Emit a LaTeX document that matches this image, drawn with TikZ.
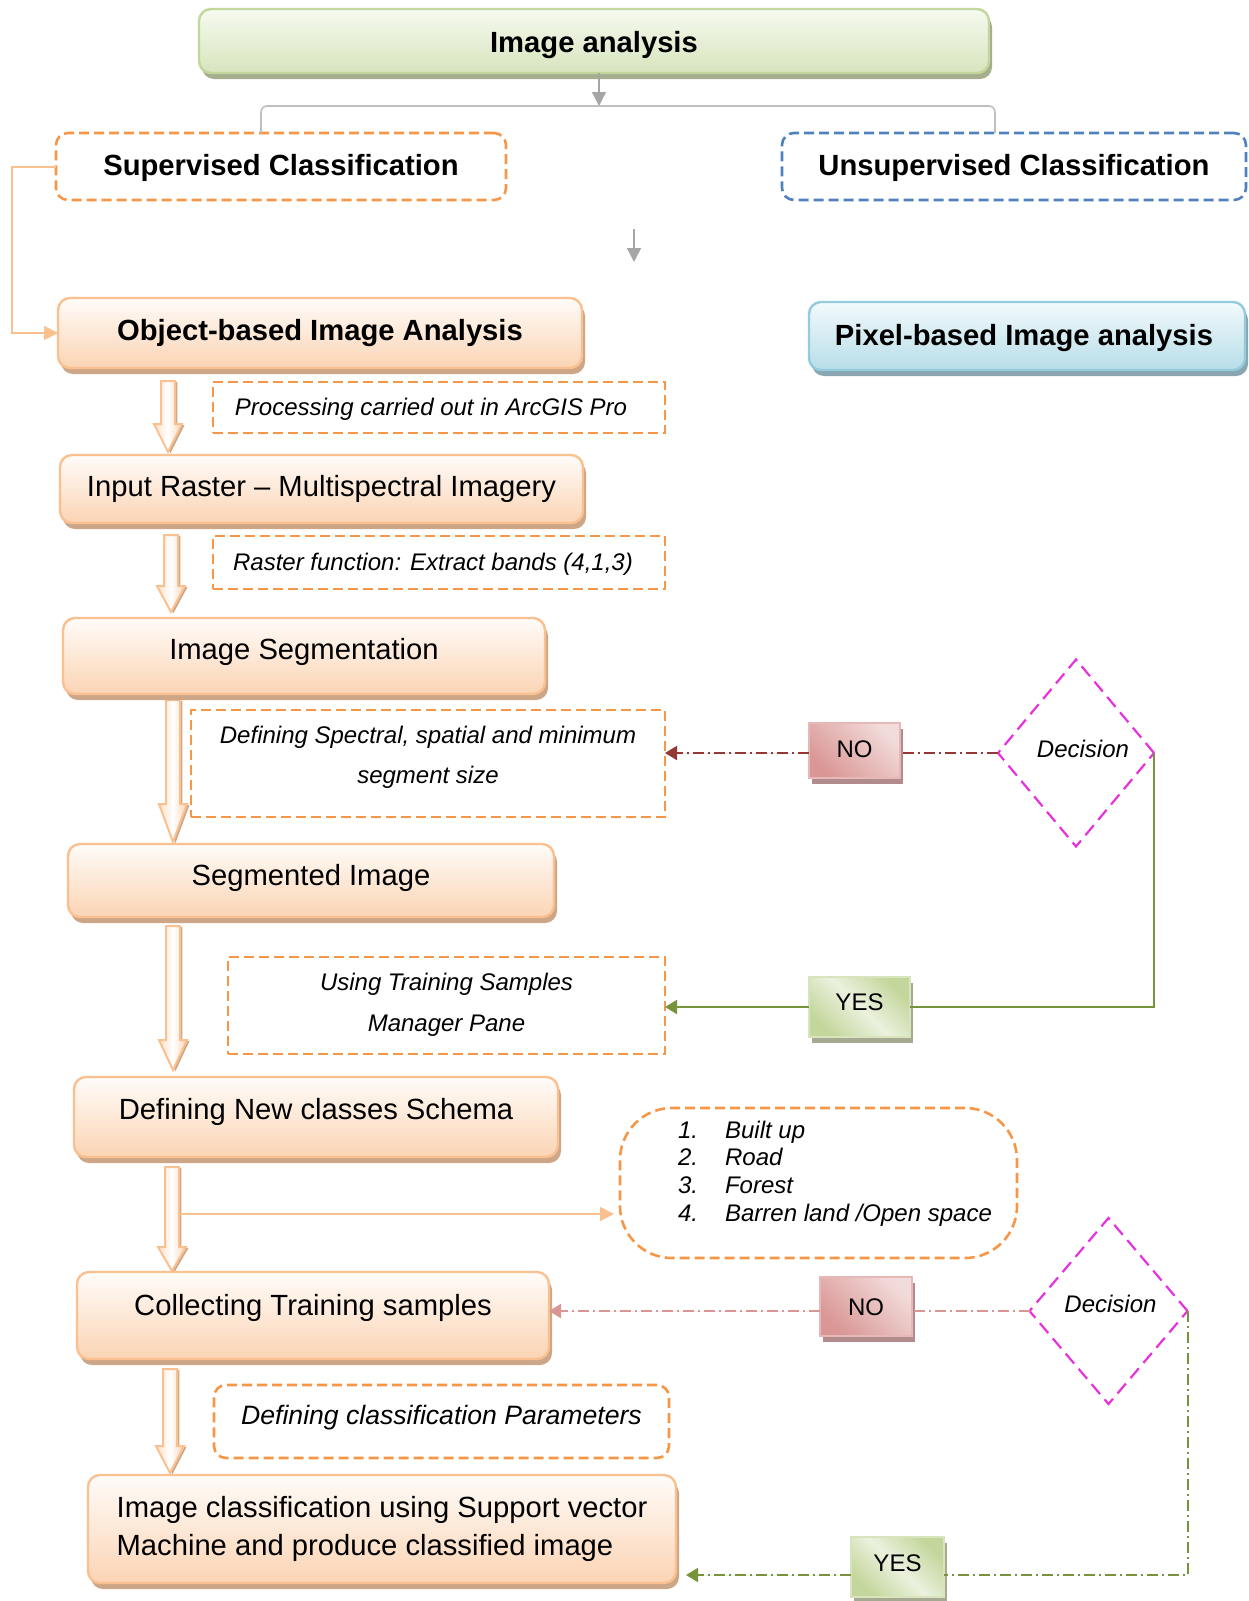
\documentclass[tikz,border=0pt]{standalone}
\usepackage{fontspec}
\setmainfont{Liberation Sans}
\usetikzlibrary{shapes.geometric,shadows,arrows.meta,calc}

\definecolor{obBorder}{RGB}{250,192,144}
\definecolor{obTop}{RGB}{255,252,249}
\definecolor{obBot}{RGB}{251,212,180}
\definecolor{obShadow}{RGB}{204,166,134}
\definecolor{grTop}{RGB}{246,250,240}
\definecolor{grBot}{RGB}{215,228,189}
\definecolor{grBorder}{RGB}{195,214,155}
\definecolor{grShadow}{RGB}{166,174,142}
\definecolor{blTop}{RGB}{243,250,252}
\definecolor{blBot}{RGB}{183,221,232}
\definecolor{blBorder}{RGB}{147,205,221}
\definecolor{blShadow}{RGB}{138,166,176}
\definecolor{noDark}{RGB}{217,150,148}
\definecolor{noLight}{RGB}{242,220,219}
\definecolor{noBorder}{RGB}{230,185,184}
\definecolor{noShadow}{RGB}{178,140,140}
\definecolor{yesDark}{RGB}{195,214,155}
\definecolor{yesLight}{RGB}{235,241,222}
\definecolor{yesBorder}{RGB}{215,228,189}
\definecolor{yesShadow}{RGB}{165,170,145}
\definecolor{dashOrange}{RGB}{247,150,70}
\definecolor{dashBlue}{RGB}{79,129,189}
\definecolor{decMagenta}{RGB}{230,50,220}
\definecolor{noRed}{RGB}{149,55,53}
\definecolor{noPink}{RGB}{217,150,148}
\definecolor{yesOlive}{RGB}{119,147,60}
\definecolor{treeGrey}{RGB}{191,191,191}
\definecolor{arrGrey}{RGB}{166,166,166}
\definecolor{linkOrange}{RGB}{250,192,144}

\tikzset{
  every node/.style={inner sep=0pt, outer sep=0pt},
  sz/.style 2 args={minimum width=#1*0.5pt, minimum height=#2*0.5pt},
  bigfont/.style={font=\fontsize{14.6}{17.5}\selectfont},
  notefont/.style={font=\fontsize{12}{20}\selectfont\itshape},
  tb/.style={text height=11pt, text depth=#1pt},
  ts/.style={text height=9pt, text depth=#1pt},
  stepbox/.style={draw=obBorder, line width=1.2pt, rounded corners=6pt,
    top color=obTop, bottom color=obBot, bigfont,
    drop shadow={shadow xshift=1.5pt, shadow yshift=-3pt, fill=obShadow, opacity=1}},
  headbox/.style={draw=grBorder, line width=1.2pt, rounded corners=6pt,
    top color=grTop, bottom color=grBot, bigfont,
    drop shadow={shadow xshift=1.5pt, shadow yshift=-3pt, fill=grShadow, opacity=1}},
  pixbox/.style={draw=blBorder, line width=1.2pt, rounded corners=6pt,
    top color=blTop, bottom color=blBot, bigfont,
    drop shadow={shadow xshift=1.5pt, shadow yshift=-3pt, fill=blShadow, opacity=1}},
  classbox/.style={draw=#1, line width=1.3pt, dash pattern=on 5pt off 2.5pt,
    rounded corners=6pt, bigfont},
  notebox/.style={draw=dashOrange, line width=1.3pt, dash pattern=on 5pt off 2.5pt,
    notefont},
  decision/.style={diamond, draw=decMagenta, line width=1.1pt,
    dash pattern=on 6.5pt off 3.5pt, font=\fontsize{12}{14}\selectfont\itshape},
  nobox/.style={draw=noBorder, line width=1.2pt, left color=noDark, right color=noLight,
    shading angle=135, font=\fontsize{12}{14}\selectfont,
    drop shadow={shadow xshift=1.5pt, shadow yshift=-3pt, fill=noShadow, opacity=1}},
  yesbox/.style={draw=yesBorder, line width=1.2pt, left color=yesDark, right color=yesDark,
    middle color=yesLight, shading angle=135, font=\fontsize{12}{14}\selectfont,
    drop shadow={shadow xshift=1.5pt, shadow yshift=-3pt, fill=yesShadow, opacity=1}},
  blockarrow/.style={draw=obBorder, line width=1pt, left color=obBot!70,
    right color=obBot, middle color=white,
    drop shadow={shadow xshift=1.2pt, shadow yshift=-0.6pt, fill=obShadow, opacity=1}},
  tipend/.style={-{Triangle[length=6pt, width=7pt]}},
  greyarrow/.style={draw=arrGrey, line width=0.7pt, -{Triangle[length=7pt, width=7pt]}},
  greyline/.style={draw=treeGrey, line width=0.8pt, rounded corners=3pt},
  linkline/.style={draw=linkOrange, line width=1pt, -{Triangle[length=7pt, width=7pt]}},
  noline/.style={line width=1pt, dash pattern=on 5.5pt off 2pt on 1pt off 2pt},
}

% hollow block arrow: centre x, top y, tip y, head length
\newcommand\blkarrow[4]{%
  \path[blockarrow] (#1-7,#2) -- (#1+7,#2) -- (#1+7,#3-#4) -- (#1+14,#3-#4)
    -- (#1,#3) -- (#1-14,#3-#4) -- (#1-7,#3-#4) -- cycle;}

\begin{document}
\begin{tikzpicture}[x=0.5pt, y=-0.5pt]
\useasboundingbox (0,0) rectangle (1248,1601);

% ---------- block arrows of the main chain ----------
\blkarrow{168}{381}{452}{28}
\blkarrow{171}{535}{612}{26}
\blkarrow{173}{700}{842}{38}
\blkarrow{173}{926}{1070}{30}
\blkarrow{172}{1167}{1271}{24}
\blkarrow{170}{1369}{1473}{27}

% ---------- top of the tree ----------
\node[headbox, sz={790}{64}, tb=0] (top) at (594,41) {\bfseries Image analysis};
\node[classbox=dashOrange, sz={450}{67}, tb=2.5] (sup) at (281,166.5)
  {\bfseries Supervised Classification};
\node[classbox=dashBlue, sz={464}{67}, tb=2.5] (unsup) at (1014,166.5)
  {\bfseries Unsupervised Classification};
\coordinate (split) at (599,106);
\draw[greyarrow] (top.south -| split) -- (split);
\draw[greyline] ([xshift=-10pt]sup.north) |- (split) -| ([xshift=-9.5pt]unsup.north);
\coordinate (fa) at (634,229);
\coordinate (fb) at (634,262);
\draw[greyarrow] (fa) -- (fb);

% ---------- analysis branches ----------
\node[stepbox, sz={524}{70}, tb=4] (obj) at (320,333) {\bfseries Object-based Image Analysis};
\node[pixbox, sz={436}{68}, tb=2] (pix) at (1027,336) {\bfseries Pixel-based Image analysis\hspace*{3pt}};
\draw[linkline] (sup.west) -- ++(-44,0) |- (obj.west);

% ---------- processing chain ----------
\node[notebox, sz={452}{51}, ts=1.5] (nArc) at (439,407.5)
  {Processing carried out in ArcGIS Pro\hspace*{8pt}};
\node[stepbox, sz={523}{68}, tb=4] (inras) at (321.5,489) {Input Raster – Multispectral Imagery};
\node[notebox, sz={452}{53}, ts=1.5] (nRast) at (439,562.5)
  {Raster function: Extract bands (4,1,3)\hspace*{6pt}};
\node[stepbox, sz={482}{76}, tb=8] (seg) at (304,656) {Image Segmentation};
\node[notebox, sz={474}{107}, ts=29.5] (nSpec) at (428,763.5)
  {\begin{tabular}[t]{@{}c@{}}Defining Spectral, spatial and minimum\\ segment size\end{tabular}};
\node[stepbox, sz={486}{73}, tb=6.5] (segd) at (311,880.5) {Segmented Image};
\node[notebox, sz={437}{97}, ts=24.5, font=\fontsize{12}{20.8}\selectfont\itshape] (nTrain) at (446.5,1005.5)
  {\begin{tabular}[t]{@{}c@{}}Using Training Samples\\ Manager Pane\end{tabular}};
\node[stepbox, sz={484}{80}, tb=8.5] (schema) at (316,1117) {Defining New classes Schema};
\node[notebox, sz={397}{150}, ts=54, rounded corners=26pt,
  font=\fontsize{12}{13.85}\selectfont\itshape] (classes) at (818.5,1183)
  {\hspace*{16.5pt}\begin{tabular}[t]{@{}l@{}}
    \makebox[23.5pt][l]{1.}Built up\\
    \makebox[23.5pt][l]{2.}Road\\
    \makebox[23.5pt][l]{3.}Forest\\
    \makebox[23.5pt][l]{4.}Barren land /Open space
  \end{tabular}};
\coordinate (br5) at (180,1214);
\draw[linkline] (br5) -- ($(br5 -| classes.west)+(-3pt,0)$);
\node[stepbox, sz={472}{87}, tb=11.5] (coll) at (313,1315.5) {Collecting Training samples};
\node[notebox, sz={455}{73}, text height=10pt, text depth=7pt, rounded corners=6pt,
  font=\fontsize{13.3}{16}\selectfont\itshape] (nParam) at (441.5,1421.5)
  {Defining classification Parameters};
\node[stepbox, sz={588}{108}, tb=23, font=\fontsize{14.6}{19}\selectfont] (svm) at (382,1529)
  {\begin{tabular}[t]{@{}l@{}}Image classification using Support vector\\
   Machine and produce classified image\end{tabular}};

% ---------- first decision loop ----------
\node[decision, sz={156}{187}, ts=5] (d1) at (1076,753) {\hspace*{7pt}Decision};
\node[nobox, sz={91}{55}, ts=2.5] (no1) at (854.5,750.5) {NO};
\node[yesbox, sz={101}{60}, ts=6] (yes1) at (859.5,1007) {YES};
\draw[noline, draw=noRed] (d1.west) -- (d1.west -| no1.east);
\draw[noline, draw=noRed, tipend, fill=noRed] (d1.west -| no1.west) -- (d1.west -| nSpec.east);
\draw[draw=yesOlive, line width=1pt] (d1.east) |- (yes1.east);
\draw[draw=yesOlive, line width=1pt, tipend, fill=yesOlive] (yes1.west) -- (yes1.west -| nTrain.east);

% ---------- second decision loop ----------
\node[decision, sz={158}{186}, ts=7.5] (d2) at (1108.5,1311) {\hspace*{2pt}Decision};
\node[nobox, sz={92}{59}, ts=0.5] (no2) at (866,1306.5) {NO};
\node[yesbox, sz={93}{60}, ts=5] (yes2) at (897.5,1567) {YES};
\draw[noline, draw=noPink] (d2.west) -- (d2.west -| no2.east);
\draw[noline, draw=noPink, tipend, fill=noPink] (d2.west -| no2.west) -- (d2.west -| coll.east);
\coordinate (y2r) at ([yshift=-4pt]yes2.east);
\coordinate (y2l) at ([yshift=-4pt]yes2.west);
\draw[noline, draw=yesOlive] (d2.east) |- (y2r);
\draw[noline, draw=yesOlive, tipend, fill=yesOlive] (y2l) -- ($(y2l -| svm.east)+(5pt,0)$);
\end{tikzpicture}
\end{document}
